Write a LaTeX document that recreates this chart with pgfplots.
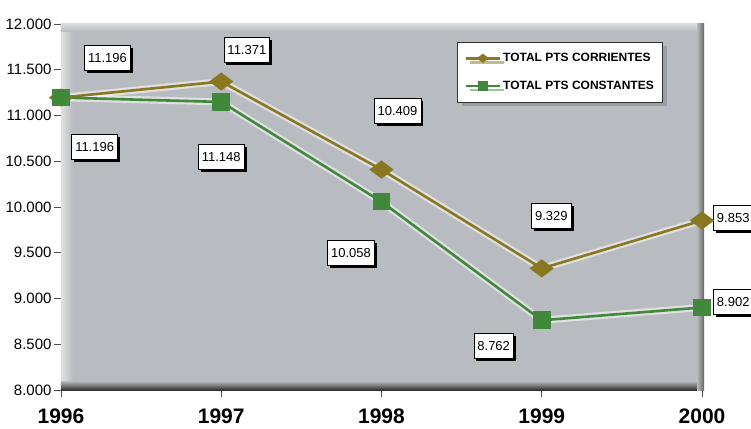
\documentclass[border=0pt]{standalone}
\usepackage{fontspec}
\setmainfont{Liberation Sans}
\usepackage{pgfplots}
\pgfplotsset{compat=1.18}
\usetikzlibrary{shadows}

\definecolor{bggray}{RGB}{184,187,191}
\definecolor{corr}{RGB}{138,120,32}
\definecolor{const}{RGB}{64,136,58}

\begin{document}
\begin{tikzpicture}[
  lbl/.style={draw=black, fill=white, line width=0.8pt,
    font=\fontsize{13}{13}\selectfont, text height=9.5pt, text depth=0pt,
    inner xsep=3.5pt, inner ysep=8pt,
    drop shadow={shadow xshift=2.5pt, shadow yshift=-2.5pt, fill=black, opacity=1}},
]
\begin{axis}[
    scale only axis,
    width=641pt, height=366pt,
    xmin=1996, xmax=2000, ymin=8000, ymax=12000,
    clip=false,
    axis lines*=left,
    axis line style={draw=black!70, line width=0.8pt},
    axis background/.style={fill=bggray},
    xtick={1996,1997,1998,1999,2000},
    xticklabels={1996,1997,1998,1999,2000},
    ytick={8000,8500,...,12000},
    scaled y ticks=false,
    tick align=outside,
    major tick length=7pt,
    tick style={black!70, line width=0.8pt},
    x tick label style={font=\bfseries\fontsize{21}{21}\selectfont, yshift=-8pt},
    y tick label style={font=\fontsize{15}{15}\selectfont, xshift=1pt},
    /pgf/number format/.cd, fixed, 1000 sep={.}, assume math mode=true,
    /pgfplots/.cd,
    legend style={at={(rel axis cs:0.618,0.951)}, anchor=north west,
      draw=black!80, fill=white, line width=0.8pt,
      font=\bfseries\fontsize{12}{13}\selectfont,
      inner xsep=7pt, inner ysep=9pt, row sep=14pt,
      drop shadow={shadow xshift=4pt, shadow yshift=-4pt, opacity=0.5}},
    legend cell align=left,
    legend image code/.code={
      \draw[#1, mark=none] (0pt,0pt) -- (34pt,0pt);
      \draw[#1, only marks, mark size=4pt] plot coordinates {(17pt,0pt)};
    },
]
% 3D look of the plot area
\shade[left color=white!55!bggray, right color=bggray]
  (rel axis cs:0,0) rectangle ([xshift=12pt]rel axis cs:0,1);
\shade[top color=white!45!bggray, bottom color=bggray]
  (rel axis cs:0,1) rectangle ([yshift=-8pt]rel axis cs:1,1);
\shade[top color=bggray, bottom color=black!80]
  ([yshift=9pt]rel axis cs:0,0) rectangle (rel axis cs:1,0);
\shade[left color=bggray, right color=black!60]
  ([xshift=-5pt]rel axis cs:1,0) rectangle ([xshift=2pt]rel axis cs:1,1);
\coordinate (sw) at (rel axis cs:0,0);
\coordinate (ne) at (rel axis cs:1,1);

% halos
\addplot[white, opacity=0.55, line width=7pt, forget plot]
  coordinates {(1996,11196) (1997,11371) (1998,10409) (1999,9329) (2000,9853)};
\addplot[white, opacity=0.55, line width=7pt, forget plot]
  coordinates {(1996,11196) (1997,11148) (1998,10058) (1999,8762) (2000,8902)};

\addplot[corr, line width=2.6pt, mark=diamond*, mark size=10pt,
  mark options={rotate=90, solid}]
  coordinates {(1996,11196) (1997,11371) (1998,10409) (1999,9329) (2000,9853)};
\addlegendentry{TOTAL PTS CORRIENTES}
\addplot[const, line width=2.6pt, mark=square*, mark size=7.5pt,
  mark options={solid}]
  coordinates {(1996,11196) (1997,11148) (1998,10058) (1999,8762) (2000,8902)};
\addlegendentry{TOTAL PTS CONSTANTES}

% data labels
\node[lbl] at (axis cs:1996.29,11628) {11.196};
\node[lbl] at (axis cs:1996.21,10656) {11.196};
\node[lbl] at (axis cs:1997.16,11716) {11.371};
\node[lbl] at (axis cs:1997.00,10546) {11.148};
\node[lbl] at (axis cs:1998.10,11049) {10.409};
\node[lbl] at (axis cs:1997.81,9497) {10.058};
\node[lbl] at (axis cs:1999.06,9901) {9.329};
\node[lbl] at (axis cs:1998.70,8481) {8.762};
\node[lbl] at (axis cs:2000.195,9880) {9.853};
\node[lbl] at (axis cs:2000.195,8962) {8.902};
\end{axis}
\pgfresetboundingbox
\path ([shift={(-61pt,-38pt)}]sw) rectangle ([shift={(49pt,24pt)}]ne);
\end{tikzpicture}
\end{document}
